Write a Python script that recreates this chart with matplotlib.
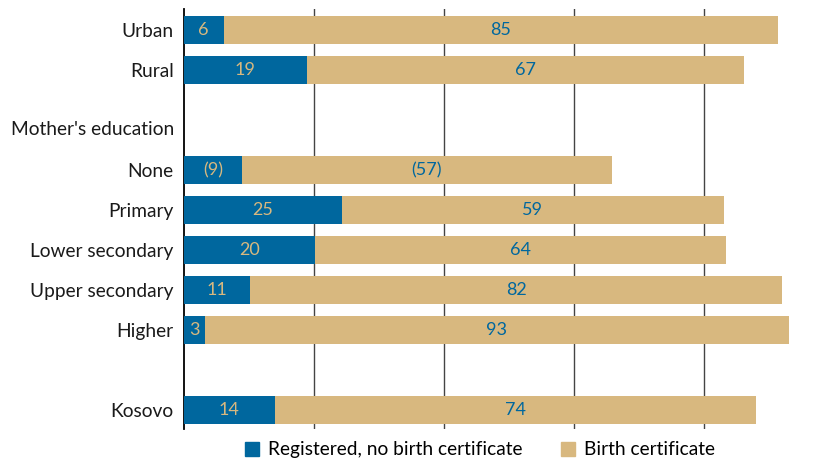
import matplotlib
matplotlib.use('Agg')
import matplotlib.pyplot as plt
from matplotlib.patches import Patch

# ── Data ────────────────────────────────────────────────────────────────
categories = ['Urban', 'Rural', "Mother's education", 'None', 'Primary',
              'Lower secondary', 'Upper secondary', 'Higher', 'Kosovo']
# row slots (gap before the education header and before Kosovo)
positions = [0, 1, 2.45, 3.5, 4.5, 5.5, 6.5, 7.5, 9.5]

# bar segments as drawn (None = header row, no bar)
registered = [6.2, 19.0, None, 9.0, 24.3, 20.2, 10.2, 3.3, 14.1]
certificate = [85.1, 67.1, None, 56.8, 58.7, 63.2, 81.8, 89.7, 73.8]
registered_lbl = ['6', '19', None, '(9)', '25', '20', '11', '3', '14']
certificate_lbl = ['85', '67', None, '(57)', '59', '64', '82', '93', '74']

grid_x = [20, 40, 60, 80]

C_BLUE = '#00679e'
C_TAN = '#d8b87f'

plt.rcParams['font.family'] = ['Lato', 'DejaVu Sans']

fig = plt.figure(figsize=(8.2, 4.61), dpi=100)
ax = fig.add_axes([0.2238, 0.0694, 0.770, 0.911])

for gx in grid_x:
    ax.axvline(gx, color='#444444', lw=1.0, zorder=1)

for y, r, c, rl, cl in zip(positions, registered, certificate,
                           registered_lbl, certificate_lbl):
    if r is None:
        continue
    ax.barh(y, r, height=0.7, color=C_BLUE, zorder=3)
    ax.barh(y, c, left=r, height=0.7, color=C_TAN, zorder=3)
    ax.text(r / 2, y, rl, ha='center', va='center', color=C_TAN,
            fontsize=13, zorder=4)
    ax.text(r + c / 2, y, cl, ha='center', va='center', color=C_BLUE,
            fontsize=13, zorder=4)

ax.set_xlim(0, 97)
ax.set_ylim(9.975, -0.525)
ax.set_yticks(positions)
ax.set_yticklabels(categories, fontsize=13.8, color='#1a1a1a')
ax.set_xticks([])
ax.tick_params(axis='y', length=0, pad=7)
for s in ['top', 'right', 'bottom']:
    ax.spines[s].set_visible(False)
ax.spines['left'].set_color('black')
ax.spines['left'].set_linewidth(1.3)

handles = [Patch(color=C_BLUE, label='Registered, no birth certificate'),
           Patch(color=C_TAN, label='Birth certificate')]
fig.legend(handles=handles, loc='center', bbox_to_anchor=(0.585, 0.024),
           ncol=2, frameon=False, fontsize=13.8, handlelength=0.75,
           handleheight=0.75, handletextpad=0.45, columnspacing=2.0)

fig.savefig('out.png', dpi=100)
